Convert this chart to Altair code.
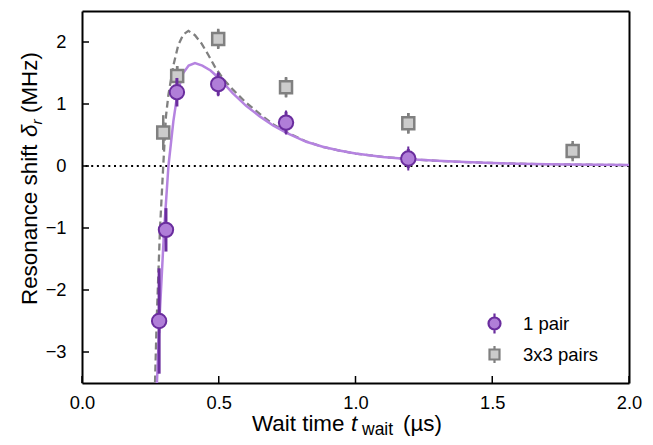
import altair as alt
import pandas as pd

FONT = "Liberation Sans"

series_names = ["1 pair", "3x3 pairs"]

pair1_t = [0.282, 0.307, 0.347, 0.498, 0.746, 1.193]
pair1_y = [-2.50, -1.03, 1.19, 1.32, 0.70, 0.12]
pair1_err = [0.85, 0.35, 0.23, 0.18, 0.175, 0.155]

pair9_t = [0.297, 0.348, 0.498, 0.746, 1.193, 1.794]
pair9_y = [0.54, 1.45, 2.05, 1.27, 0.69, 0.24]
pair9_err = [0.28, 0.16, 0.15, 0.155, 0.165, 0.13]

# ---- fitted curves ----
fit1_t = [0.268, 0.274, 0.283, 0.300, 0.316, 0.334, 0.350, 0.370, 0.390, 0.413,
          0.440, 0.470, 0.500, 0.550, 0.600, 0.650, 0.700, 0.750, 0.820, 0.880,
          0.940, 1.000, 1.100, 1.200, 1.300, 1.400, 1.500, 1.600, 1.700, 1.800,
          1.900, 2.000]
fit1_y = [-4.20, -3.50, -2.50, -1.05, 0.00, 0.72, 1.20, 1.50, 1.62, 1.66,
          1.62, 1.54, 1.42, 1.18, 0.97, 0.80, 0.65, 0.53, 0.39, 0.31,
          0.25, 0.20, 0.147, 0.11, 0.083, 0.063, 0.048, 0.037, 0.029, 0.023,
          0.019, 0.015]

fit9_t = [0.262, 0.267, 0.273, 0.285, 0.297, 0.307, 0.316, 0.334, 0.352, 0.370,
          0.389, 0.413, 0.438, 0.462, 0.486, 0.517, 0.550, 0.600, 0.650, 0.700,
          0.750, 0.820, 0.880, 0.940, 1.000, 1.100, 1.200, 1.300, 1.400, 1.500,
          1.600, 1.700, 1.800, 1.900, 2.000]
fit9_y = [-4.20, -3.50, -2.50, -1.03, 0.00, 0.80, 1.15, 1.62, 1.95, 2.12,
          2.18, 2.11, 1.97, 1.79, 1.60, 1.40, 1.24, 1.02, 0.84, 0.67,
          0.54, 0.395, 0.31, 0.25, 0.20, 0.147, 0.11, 0.083, 0.063, 0.048,
          0.037, 0.029, 0.023, 0.019, 0.015]

x_ticks = [0.0, 0.5, 1.0, 1.5, 2.0]
y_ticks = [-3, -2, -1, 0, 1, 2]

# ---- tables ----
pts = pd.concat([
    pd.DataFrame({"t": pair9_t, "y": pair9_y, "err": pair9_err, "series": series_names[1]}),
    pd.DataFrame({"t": pair1_t, "y": pair1_y, "err": pair1_err, "series": series_names[0]}),
], ignore_index=True)
pts["lo"] = pts["y"] - pts["err"]
pts["hi"] = pts["y"] + pts["err"]

fit1 = pd.DataFrame({"t": fit1_t, "y": fit1_y})
fit9 = pd.DataFrame({"t": fit9_t, "y": fit9_y})

W, H = 547, 372
xs = alt.Scale(domain=[0, 2], nice=False, zero=False)
ys = alt.Scale(domain=[-3.5, 2.5], nice=False, zero=False)

DOM = dict(domain=True, domainColor="black", domainWidth=2, domainOpacity=1,
           ticks=False, grid=False, title=None)
x_axis = alt.Axis(orient="bottom", values=x_ticks, format=".1f", labelFont=FONT,
                  labelFontSize=18.3, labelColor="black", labelPadding=11,
                  labelFlush=False, **DOM)
y_axis = alt.Axis(orient="left", values=y_ticks, format="d", labelFont=FONT,
                  labelFontSize=18.3, labelColor="black", labelPadding=16,
                  labelFlush=False, **DOM)
top_axis = alt.Axis(orient="top", labels=False, **DOM)
right_axis = alt.Axis(orient="right", labels=False, **DOM)

PURPLE_FILL = "#b07ed8"
PURPLE_EDGE = "#6a2d9e"
PURPLE_LINE = "#b583e0"
GRAY_FILL = "#cccccc"
GRAY_EDGE = "#808080"

circle_path = ("M-0.6,0A0.6,0.6,0,1,0,0.6,0A0.6,0.6,0,1,0,-0.6,0Z"
               "M0,-0.6L0,-1M0,0.6L0,1")
square_path = ("M-0.5,-0.5L0.5,-0.5L0.5,0.5L-0.5,0.5Z"
               "M0,-0.5L0,-0.85M0,0.5L0,0.85")


def X(f):
    return alt.X(f, scale=xs, axis=None)


def Y(f):
    return alt.Y(f, scale=ys, axis=None)


# frame axes carrier (invisible point) : bottom/left with labels, top/right plain
axes_main = alt.Chart(pd.DataFrame({"v": [0]})).mark_point(opacity=0).encode(
    x=alt.X("v:Q", scale=xs, axis=x_axis), y=alt.Y("v:Q", scale=ys, axis=y_axis))
axes_box = alt.Chart(pd.DataFrame({"v": [0]})).mark_point(opacity=0).encode(
    x=alt.X("v:Q", scale=xs, axis=top_axis), y=alt.Y("v:Q", scale=ys, axis=right_axis))

# zero dotted line
zero = alt.Chart(pd.DataFrame({"v": [0]})).mark_rule(
    color="black", strokeWidth=2, strokeDash=[2, 3.7]
).encode(y=Y("v:Q"))

line9 = alt.Chart(fit9).mark_line(
    color=GRAY_EDGE, strokeWidth=2.3, strokeDash=[7, 4], clip=True
).encode(x=X("t:Q"), y=Y("y:Q"))

line1 = alt.Chart(fit1).mark_line(
    color=PURPLE_LINE, strokeWidth=2.5, clip=True
).encode(x=X("t:Q"), y=Y("y:Q"))

legend = alt.Legend(title=None, orient="none", legendX=401, legendY=301,
                    labelFont=FONT, labelFontSize=18.5, labelColor="black",
                    symbolSize=400, symbolStrokeWidth=2.2, rowPadding=3,
                    labelOffset=17, symbolOpacity=1)

shape_enc = alt.Shape("series:N", scale=alt.Scale(domain=series_names, range=[circle_path, square_path]),
                      legend=legend)
fill_enc = alt.Fill("series:N", scale=alt.Scale(domain=series_names, range=[PURPLE_FILL, GRAY_FILL]),
                    legend=legend)
stroke_enc = alt.Stroke("series:N", scale=alt.Scale(domain=series_names, range=[PURPLE_EDGE, GRAY_EDGE]),
                        legend=legend)


def bars(name, color, width):
    return alt.Chart(pts).transform_filter(alt.datum.series == name).mark_rule(
        color=color, strokeWidth=width
    ).encode(x=X("t:Q"), y=Y("lo:Q"), y2="hi:Q")


def points(name, sw):
    return alt.Chart(pts).transform_filter(alt.datum.series == name).mark_point(
        size=576, opacity=1, fillOpacity=1, strokeOpacity=1, strokeWidth=sw
    ).encode(x=X("t:Q"), y=Y("y:Q"), shape=shape_enc, fill=fill_enc, stroke=stroke_enc)


# inward ticks
xt = alt.Chart(pd.DataFrame({"v": x_ticks})).mark_rule(color="black", strokeWidth=1.5).encode(
    x=X("v:Q"), y=alt.value(H), y2=alt.value(H - 7))
yt = alt.Chart(pd.DataFrame({"v": y_ticks})).mark_rule(color="black", strokeWidth=1.5).encode(
    y=Y("v:Q"), x=alt.value(0), x2=alt.value(7))


# composed axis titles
def txt(s, x, y, size=22.4, style="normal", angle=0):
    kw = dict(text=s, font=FONT, fontSize=size, fontStyle=style, color="black",
              align="left", baseline="alphabetic")
    if angle:
        kw["angle"] = angle
    return alt.Chart(pd.DataFrame({"v": [0]})).mark_text(**kw).encode(
        x=alt.value(x), y=alt.value(y))


xb = 420
xtitle = [
    txt("Wait time", 170, xb),
    txt("t", 269, xb, style="italic"),
    txt("wait", 280, xb + 4, size=17.5),
    txt("(µs)", 321, xb),
]
yb = -45
ytitle = [
    txt("Resonance shift", yb, 294, angle=270),
    txt("δ", yb, 126, style="italic", angle=270),
    txt("r", yb + 4.5, 113.5, size=15.5, style="italic", angle=270),
    txt("(MHz)", yb, 102, angle=270),
]

chart = alt.layer(
    axes_main, axes_box, zero, line9, line1,
    bars(series_names[1], GRAY_EDGE, 2.5), points(series_names[1], 2.5),
    bars(series_names[0], PURPLE_EDGE, 3), points(series_names[0], 2),
    xt, yt, *xtitle, *ytitle
).resolve_axis(x="independent", y="independent").properties(
    width=W, height=H,
    autosize=alt.AutoSizeParams(type="none"),
    padding={"left": 74, "top": 3, "right": 16, "bottom": 62},
).configure(background="white").configure_view(stroke="transparent")

chart.save("out.html", embed_options={"renderer": "svg", "actions": False})
